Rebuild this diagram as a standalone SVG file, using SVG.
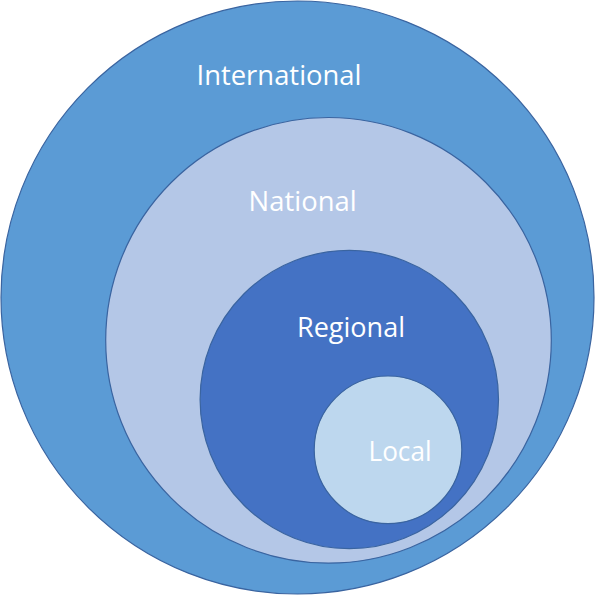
<svg xmlns="http://www.w3.org/2000/svg" width="595" height="595" viewBox="0 0 595 595">
  <style>
    .c { stroke: #3A64A0; stroke-width: 1.2; }
    .t { font-family: "Open Sans", "Liberation Sans", sans-serif; font-size: 27px; fill: #FFFFFF; text-anchor: middle; }
  </style>
  <rect width="595" height="595" fill="#FFFFFF"/>
  <g id="international">
    <circle class="c" cx="297.5" cy="297.5" r="296.5" fill="#5B9BD5"/>
    <text class="t" x="279" y="85" textLength="165" lengthAdjust="spacingAndGlyphs">International</text>
  </g>
  <g id="national">
    <circle class="c" cx="328.5" cy="340.3" r="222.8" fill="#B4C7E7"/>
    <text class="t" x="302.6" y="211" textLength="108" lengthAdjust="spacingAndGlyphs">National</text>
  </g>
  <g id="regional">
    <circle class="c" cx="349.3" cy="399.5" r="149.2" fill="#4472C4"/>
    <text class="t" x="351" y="337" textLength="108" lengthAdjust="spacingAndGlyphs">Regional</text>
  </g>
  <g id="local">
    <circle class="c" cx="388" cy="449.8" r="73.8" fill="#BDD7EE"/>
    <text class="t" x="400" y="461" textLength="63" lengthAdjust="spacingAndGlyphs">Local</text>
  </g>
  <g id="connectors"/>
</svg>
